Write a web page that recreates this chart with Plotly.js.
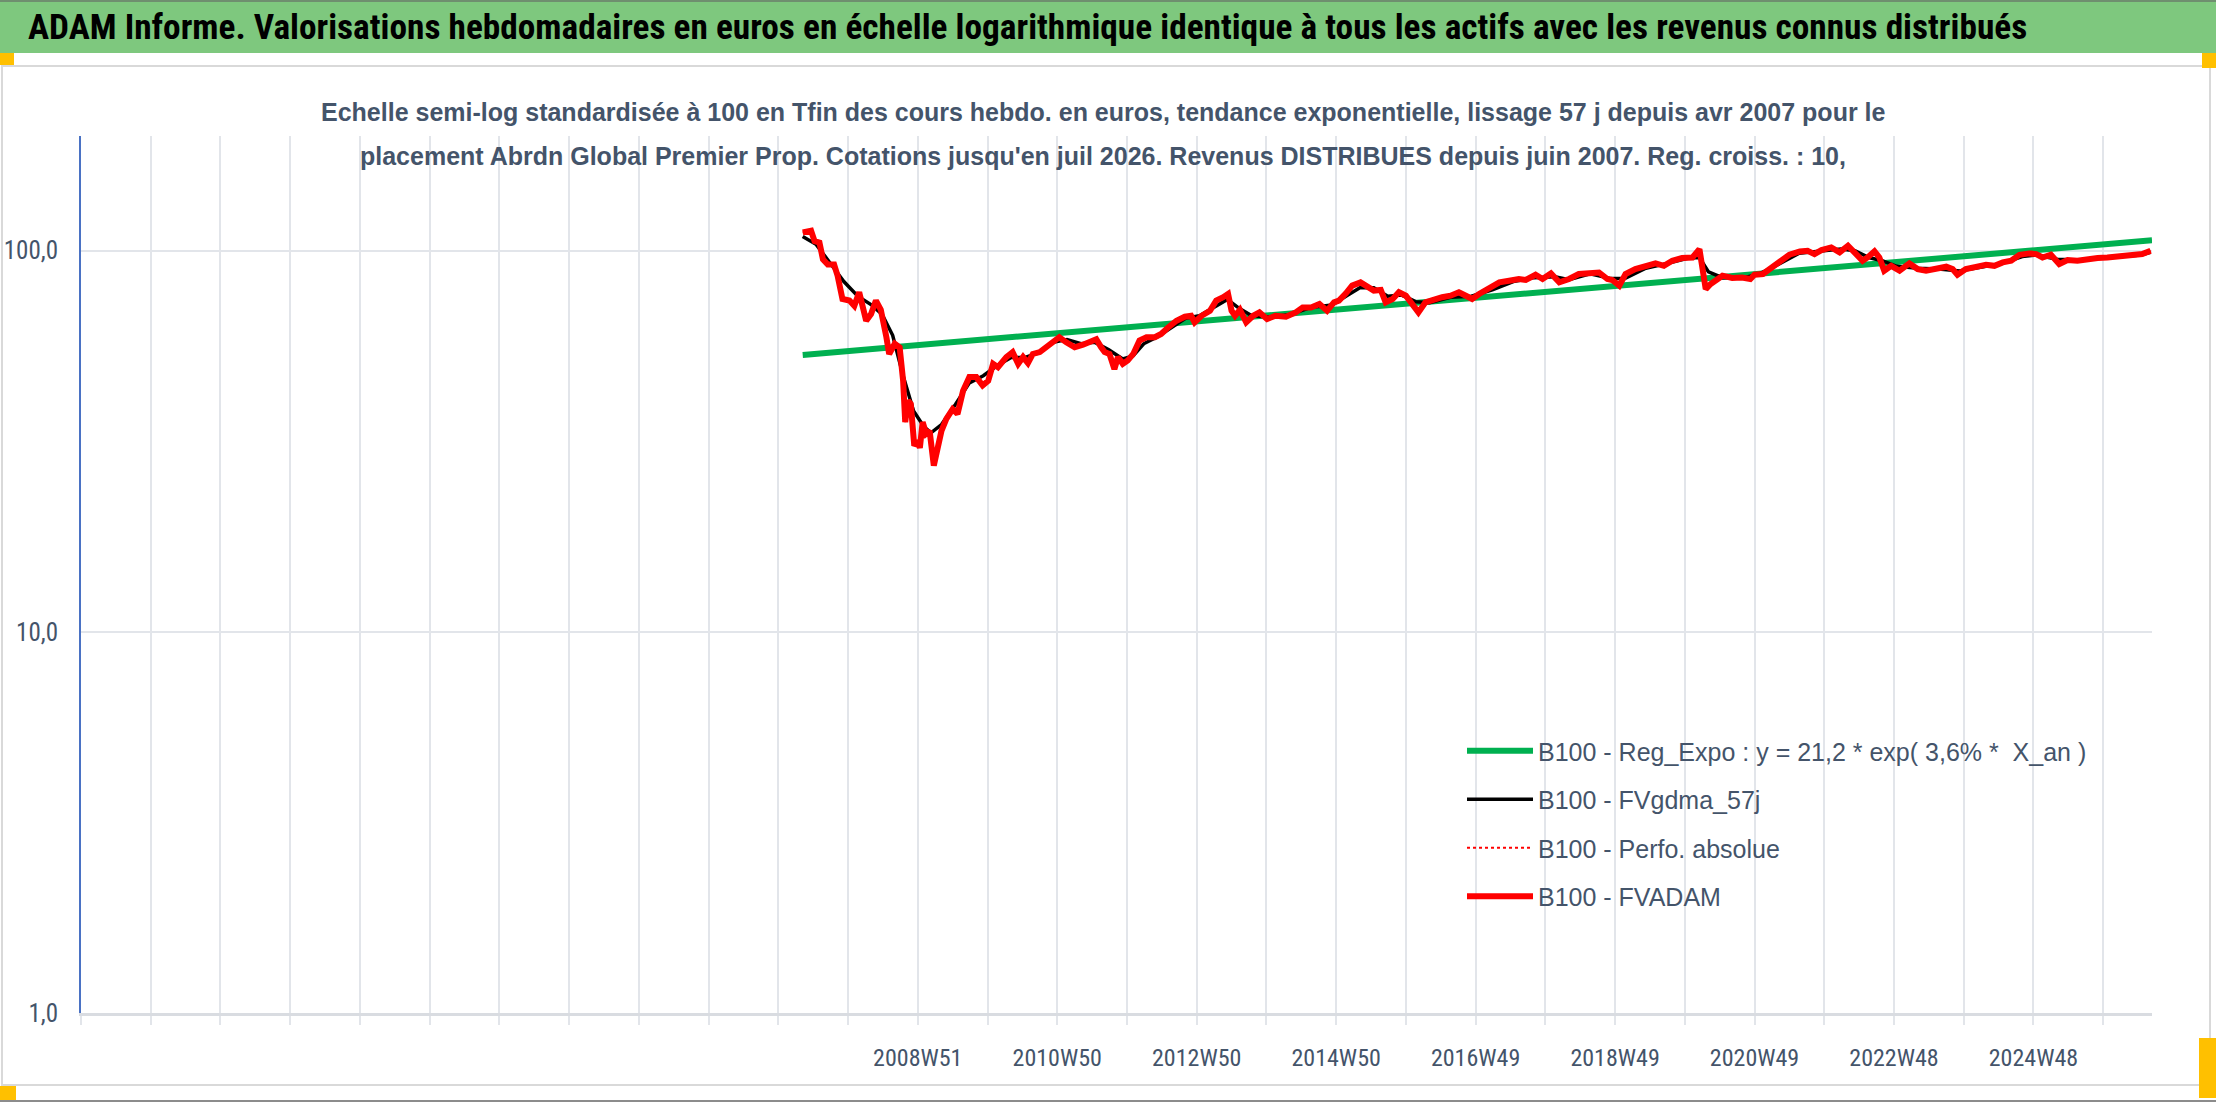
<!DOCTYPE html>
<html><head><meta charset="utf-8">
<script src="https://cdn.plot.ly/plotly-3.0.1.min.js"></script>
<style>html,body{margin:0;padding:0;background:#fff;overflow:hidden}#chart{width:2216px;height:1102px;}</style>
</head><body><div id="chart"></div>
<script>
// ---- Data ----
const fvadamYears = [
2007.31,2007.43,2007.48,2007.55,2007.60,2007.67,2007.76,2007.81,2007.88,2007.98,
2008.05,2008.12,2008.22,2008.29,2008.36,2008.43,2008.51,2008.55,2008.63,2008.70,
2008.75,2008.78,2008.82,2008.86,2008.91,2008.96,2008.99,2009.03,2009.08,2009.13,
2009.19,2009.22,2009.30,2009.37,2009.46,2009.53,2009.61,2009.70,2009.80,2009.89,
2009.97,2010.04,2010.11,2010.23,2010.32,2010.40,2010.47,2010.54,2010.61,2010.71,
2010.80,2010.90,2010.99,2011.09,2011.21,2011.33,2011.42,2011.52,2011.59,2011.64,
2011.71,2011.78,2011.83,2011.90,2011.97,2012.05,2012.14,2012.24,2012.36,2012.45,
2012.55,2012.67,2012.79,2012.88,2012.93,2013.03,2013.15,2013.24,2013.34,2013.41,
2013.46,2013.51,2013.58,2013.67,2013.77,2013.86,2013.97,2014.09,2014.24,2014.38,
2014.48,2014.60,2014.72,2014.83,2014.93,2015.00,2015.10,2015.19,2015.31,2015.41,
2015.50,2015.60,2015.67,2015.77,2015.86,2015.96,2016.05,2016.14,2016.24,2016.36,
2016.48,2016.60,2016.72,2016.82,2016.91,2017.01,2017.15,2017.30,2017.44,2017.58,
2017.68,2017.82,2017.92,2018.04,2018.16,2018.30,2018.44,2018.59,2018.73,2018.85,
2018.92,2019.02,2019.11,2019.25,2019.40,2019.54,2019.66,2019.78,2019.92,2020.07,
2020.17,2020.21,2020.26,2020.33,2020.40,2020.50,2020.64,2020.78,2020.90,2020.96,
2021.08,2021.22,2021.34,2021.46,2021.61,2021.72,2021.82,2021.92,2022.06,2022.18,
2022.30,2022.39,2022.51,2022.58,2022.68,2022.75,2022.82,2022.92,2023.04,2023.18,
2023.30,2023.42,2023.56,2023.71,2023.80,2023.87,2023.99,2024.14,2024.28,2024.40,
2024.52,2024.64,2024.76,2024.90,2025.00,2025.09,2025.21,2025.33,2025.45,2025.59,
2025.74,2025.88,2026.02,2026.17,2026.29,2026.40,2026.52,2026.64];
const fvadamValues = [
111.7,112.8,106,105,95,92,92,86,74.7,74,
71.7,77.8,65.5,68.2,74,70,59.3,53.6,57,55.8,
45.6,35.5,40.4,39.6,30.8,31.7,30.4,35.5,33.1,33.7,
27.3,29.3,33.7,36.2,38.4,37.3,42.9,46.6,46.6,44.3,
45.6,50.5,49.5,52.6,54.2,50.5,52.6,50.7,53.6,54.2,
55.8,58.1,59.3,57.5,55.8,56.7,57.5,58.6,55.8,54.2,
53.6,48.9,52.6,50.5,51.5,53.6,58.1,59.3,59.3,60.5,
62.9,65.5,67.1,67.5,64.9,67.5,69.6,74.0,75.5,77.0,
69.6,67.5,70.0,64.9,67.5,68.9,66.2,67.5,67.1,68.9,
71.0,71.0,72.5,69.6,73.2,74.0,77.3,81.0,82.6,80.2,
78.6,78.9,73.2,74.7,77.8,76.2,72.5,68.9,73.2,74.7,
75.5,76.2,77.8,76.2,74.7,77.0,79.4,82.6,83.4,84.3,
83.8,86.5,84.3,87.2,82.6,84.3,86.9,87.7,87.7,84.3,
83.8,81.0,86.9,89.5,91.3,92.6,91.3,94.1,95.7,96.0,
101.0,92.3,79.3,81.8,83.4,86.0,84.8,85.1,84.3,86.5,
86.9,90.4,94.1,97.6,99.6,100,98.0,100.4,102.0,99.0,
103.1,99.0,94.1,96.0,99.6,96.0,88.6,91.3,88.6,92.6,
89.5,88.6,89.5,90.8,89.5,86.5,89.5,90.8,91.9,91.3,
93.2,94.1,97.6,98.4,98.0,96.0,97.6,92.3,94.5,94.1,
95.1,95.7,96.0,96.4,97.0,97.0,98.0,100];

const smoothYears = [
2007.31,2007.5,2007.7,2007.9,2008.1,2008.3,2008.45,2008.6,2008.75,2008.9,
2009.05,2009.15,2009.3,2009.5,2009.7,2009.9,2010.1,2010.3,2010.5,2010.7,
2010.9,2011.1,2011.3,2011.5,2011.7,2011.9,2012.05,2012.2,2012.4,2012.6,
2012.8,2013.0,2013.2,2013.4,2013.55,2013.75,2014.0,2014.3,2014.6,2014.9,
2015.1,2015.3,2015.5,2015.7,2015.9,2016.1,2016.3,2016.6,2016.9,2017.2,
2017.5,2017.8,2018.1,2018.3,2018.6,2018.9,2019.1,2019.4,2019.7,2020.0,
2020.17,2020.3,2020.5,2020.8,2021.0,2021.3,2021.6,2021.9,2022.2,2022.4,
2022.6,2022.8,2023.0,2023.3,2023.6,2023.9,2024.2,2024.5,2024.8,2025.0,
2025.3,2025.6,2025.9,2026.2,2026.5,2026.64];
const smoothValues = [
109,104,93,83,76,72,68,60,47,38,
34.5,33.3,35,39.5,45,47,50,52.5,52.5,54,
57.5,58.5,57,57.5,55,52,53,57,59.5,63,
66.5,67.5,71,74.5,71,67.5,67,68,71,72,
76,80,80,76,76.5,73.5,73,75.5,76,79,
83,85,85.5,84,87,84.5,84.5,90,92.5,95.5,
96,88,85,85,86.5,92,98.5,100,101,100,
96,94,91,90,89.5,88.5,90.5,92.5,96.5,97.5,
95,94.5,95.5,96.5,97.5,99];

const regYears = [2007.31, 2026.66];
const regValues = [53.3, 106.5];

const tickLabels = ['2008W51','2010W50','2012W50','2014W50','2016W49','2018W49','2020W49','2022W48','2024W48'];
const yTickValues = [1, 10, 100];

const seriesNames = [
  'B100 - Reg_Expo : y = 21,2 * exp( 3,6% *  X_an )',
  'B100 - FVgdma_57j',
  'B100 - Perfo. absolue',
  'B100 - FVADAM'
];

// ---- Layout geometry (pixels) ----
const W = 2216, H = 1102;
const L = 81, R = 2152, T = 136, B = 1013;
const px = x => (x - L) / (R - L);
const py = y => (B - y) / (B - T);

const NARROW = '"Liberation Sans Narrow", "Arial Narrow", "Roboto Condensed", sans-serif';
const REG = '"Liberation Sans", Arial, sans-serif';
const SLATE = '#44546a';

// x gridlines every 52 weeks, labels every other one
const firstGrid = 1996.96, lastLabelled = 2008.96;
const tickvals = [], ticktext = [];
for (let k = 0; k <= 29; k++) {
  const v = firstGrid + k;
  tickvals.push(v);
  const j = Math.round(v - lastLabelled);
  ticktext.push(j >= 0 && j % 2 === 0 && j / 2 < tickLabels.length ? tickLabels[j / 2] : '');
}

const traces = [
  {x: regYears, y: regValues, name: seriesNames[0], mode: 'lines', legendgroup: 'a',
   line: {color: '#00b050', width: 6}},
  {x: smoothYears, y: smoothValues, name: seriesNames[1], mode: 'lines', legendgroup: 'b',
   line: {color: '#000000', width: 3.5}},
  {x: fvadamYears, y: fvadamValues, name: seriesNames[2], mode: 'lines', legendgroup: 'c',
   line: {color: '#ff0000', width: 2, dash: 'dot'}},
  {x: fvadamYears, y: fvadamValues, name: seriesNames[3], mode: 'lines', legendgroup: 'd',
   line: {color: '#ff0000', width: 6}}
];

const shapes = [
  {type: 'rect', xref: 'paper', yref: 'paper', x0: px(0), x1: px(W), y0: py(53), y1: py(0),
   fillcolor: '#7ec87e', line: {width: 0}, layer: 'below'},
  {type: 'line', xref: 'paper', yref: 'paper', x0: px(0), x1: px(W), y0: py(1), y1: py(1),
   line: {color: '#6f8f6f', width: 2}, layer: 'below'},
  {type: 'rect', xref: 'paper', yref: 'paper', x0: px(2), x1: px(2210), y0: py(1085), y1: py(66),
   line: {color: '#d9d9d9', width: 2}, layer: 'below'},
  {type: 'line', xref: 'paper', yref: 'paper', x0: px(0), x1: px(W), y0: py(1101), y1: py(1101),
   line: {color: '#8c8c8c', width: 2}, layer: 'below'},
  {type: 'rect', xref: 'paper', yref: 'paper', x0: px(0), x1: px(14), y0: py(65), y1: py(53),
   fillcolor: '#ffc000', line: {width: 0}},
  {type: 'rect', xref: 'paper', yref: 'paper', x0: px(2202), x1: px(W), y0: py(68), y1: py(53),
   fillcolor: '#ffc000', line: {width: 0}},
  {type: 'rect', xref: 'paper', yref: 'paper', x0: px(2199), x1: px(W), y0: py(1098), y1: py(1038),
   fillcolor: '#ffc000', line: {width: 0}},
  {type: 'rect', xref: 'paper', yref: 'paper', x0: px(0), x1: px(16), y0: py(1100), y1: py(1086),
   fillcolor: '#ffc000', line: {width: 0}}
];

const annotations = [
  {xref: 'paper', yref: 'paper', x: px(1103), y: py(112), xanchor: 'center', yanchor: 'middle', showarrow: false,
   text: '<b>Echelle semi-log standardisée à 100 en Tfin des cours hebdo. en euros, tendance exponentielle, lissage 57 j depuis avr 2007 pour le</b>',
   font: {family: REG, size: 25, color: SLATE}},
  {xref: 'paper', yref: 'paper', x: px(1103), y: py(156), xanchor: 'center', yanchor: 'middle', showarrow: false,
   text: "<b>placement Abrdn Global Premier Prop. Cotations jusqu'en juil 2026. Revenus DISTRIBUES depuis juin 2007. Reg. croiss. : 10,</b>",
   font: {family: REG, size: 25, color: SLATE}}
];

const layout = {
  width: W, height: H,
  margin: {l: L, r: W - R, t: T, b: H - B, pad: 0},
  paper_bgcolor: '#ffffff', plot_bgcolor: 'rgba(0,0,0,0)',
  separators: ', ',
  title: {text: '<b>ADAM Informe. Valorisations hebdomadaires en euros en échelle logarithmique identique à tous les actifs avec les revenus connus distribués</b>',
          font: {family: NARROW, size: 35.3, color: '#000000'},
          xref: 'container', yref: 'container', x: 28 / W, xanchor: 'left', y: 1 - 27 / H, yanchor: 'middle'},
  xaxis: {range: [1996.96, 2026.66], tickmode: 'array', tickvals: tickvals, ticktext: ticktext,
          showgrid: true, gridcolor: '#e2e5ea', gridwidth: 2, zeroline: false,
          showline: true, linecolor: '#d9dce1', linewidth: 3,
          ticks: 'outside', ticklen: 9, tickwidth: 2, tickcolor: '#e2e5ea',
          ticklabelstandoff: 12,
          tickfont: {family: NARROW, size: 24, color: SLATE}},
  yaxis: {type: 'log', range: [0, Math.log10(200)], tickmode: 'array', tickvals: yTickValues,
          tickformat: '.1f', showgrid: true, gridcolor: '#e2e5ea', gridwidth: 2, zeroline: false,
          showline: true, linecolor: '#4a72c4', linewidth: 2, ticks: '',
          ticklabelstandoff: 16,
          tickfont: {family: NARROW, size: 25, color: SLATE}},
  legend: {x: px(1462), y: py(728), xanchor: 'left', yanchor: 'top', bgcolor: 'rgba(0,0,0,0)',
           traceorder: 'grouped', tracegroupgap: 13, itemwidth: 66,
           font: {family: REG, size: 25, color: SLATE}},
  showlegend: true,
  shapes: shapes,
  annotations: annotations
};

Plotly.newPlot('chart', traces, layout, {displayModeBar: false, staticPlot: true});
</script>
</body></html>
